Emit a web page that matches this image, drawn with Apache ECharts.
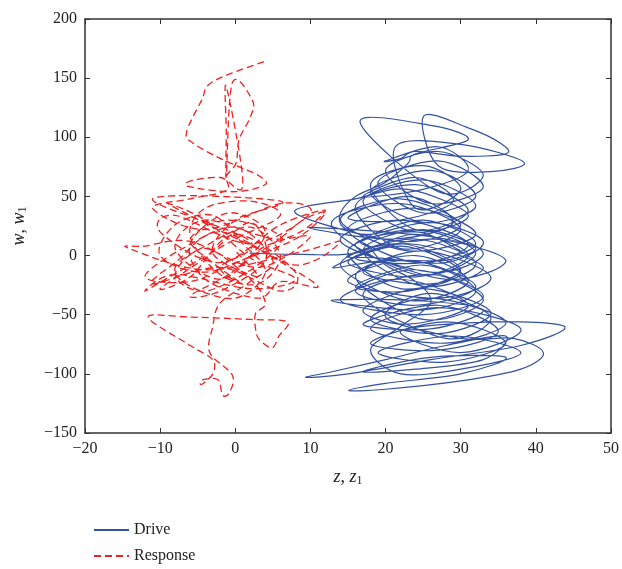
<!DOCTYPE html>
<html>
<head>
<meta charset="utf-8">
<script src="https://cdn.jsdelivr.net/npm/echarts@6/dist/echarts.min.js"></script>
<style>
  html, body { margin: 0; padding: 0; background: #fff; }
  #main { width: 622px; height: 569px; }
</style>
</head>
<body>
<div id="main"></div>
<script>
// axis ticks
var xTicks = [-20, -10, 0, 10, 20, 30, 40, 50];
var yTicks = [-150, -100, -50, 0, 50, 100, 150, 200];

// drive trajectory (z, w), loop by loop
var drive = [
  [1.9,2],[9,1],
  [16,2],[24,18],[31,0],[24,-18],
  [15,-6],[23,10],[33,-10],[25,-26],
  [17,4],[25,22],[33,2],[26,-14],
  [14,12],[22,30],[31,10],[24,-6],
  [15,22],[24,40],[32,18],[23,4],
  [14,30],[22,48],[30,26],[22,12],
  [8,36],[16,48],[23,56],[31,34],[24,20],
  [17,46],[25,64],[32,42],[25,28],
  [18,54],[26,72],[32,50],[25,36],
  [19,62],[27,80],[33,58],[26,44],
  [20,72],[27,88],[33,68],[27,54],
  [16.6,113],[26,110],[31,98],[24,86],[23,78],[20,62],[16,50],[14,36],[14.4,24],[18,18],
  [26,28],[33,12],[28,-6],[19,-2],
  [15,0],[24,14],[32,-6],[26,-24],
  [17,-14],[25,4],[34,-18],[27,-36],
  [15,-22],[23,-4],[32,-26],[24,-42],
  [16,-30],[24,-12],[33,-34],[25,-50],
  [14,-38],[22,-20],[31,-42],[23,-58],
  [17,-46],[25,-28],[34,-48],[27,-66],
  [18,-54],[26,-36],[36,-56],[28,-74],
  [18,-62],[27,-44],[38,-62],[30,-82],
  [22,-64],[34,-56],[43.8,-60],[38,-76],[26,-88],[15,-100],[9.4,-103],[13,-98],[20,-88],
  [28,-76],[36,-68],[33,-88],[24,-96],
  [17,-98],[26,-86],[36,-86],[30,-100],[20,-108],[15.1,-114],[20,-113],[30,-106],[38,-96],[41,-82],[37,-70],[30,-70],
  [20,-52],[26,-32],[34,-52],[28,-70],
  [17,-34],[26,-16],[33,-38],[25,-54],
  [16,-18],[24,0],[31,-22],[23,-38],
  [14,-8],[22,10],[30,-12],[22,-28],
  [15,4],[24,22],[32,2],[24,-16],
  [12.8,26],[22,44],[30,22],[22,6],
  [16,42],[24,60],[31,38],[24,22],
  [18,60],[25,76],[30,56],[24,40],
  [21.3,92],[30,94],[38.4,79],[34,71],[27,76],
  [25.1,118],[31,108],[35.3,95],[36,86],[30,84],[24,88],[22,82],
  [20,80],[27,92],[31,72],[25,56],
  [17,50],[24,66],[29,46],[22,30],
  [15,32],[23,50],[29,28],[21,14],
  [9.8,23.6],[20,20],[28,14],[32,6],[28,-4],[20,-4],
  [13,-10],[22,8],[30,-14],[23,-30],
  [16,-26],[25,-8],[32,-30],[25,-46],
  [12.8,-38],[24,-38],[33,-46],[26,-62],
  [17,-58],[27,-42],[35,-64],[27,-80],
  [18,-74],[28,-56],[36,-74],[28,-90],
  [19,-82],[29,-68],[38,-82],[30,-96],[22,-100],
  [18,-80],[22,-60],[26,-40],[24,-22],[20,-8],[18,6],
  [17,14],[25,30],[32,10],[25,-6],
  [16,-2],[26,14],[36,-4],[28,-20],
  [16,8],[24,20],[30,4]
];

// response trajectory (z1, w1)
var response = [
  [3.8,164],[-3,147],[-4.5,131],[-6.5,104],[-5.6,95],[-2.6,84],[0.5,75],[3,68],[4,60],[0,54],[-6,58],[-6,63],[-2,66],[1,60],
  [-1.2,143],[-1.2,105],[-1.2,67],[-0.4,146],[2.3,131],[2,117],[0.5,98],[0.1,78],[-1.2,67],[-1.2,55],
  [-6,48],[-11,40],[-4,22],[6,44],[10,36],[2,10],[-8,34],[-10,20],[-2,-6],[6,26],[12,38],[6,14],[-4,30],[-8,6],
  [-2,-20],[4,8],[10,16],[3,-10],[-6,12],[-12,8],[-14.3,6.5],[-4,-12],[8,2],[14,12],[8,-8],[-2,20],[-8,-6],
  [-11,-24],[-2,-10],[6,-30],[8,-14],[0,18],[-6,-18],[-10,-28],[-4,-2],[2,28],[4,-4],[-2,-30],[-6,-34],[0,-12],
  [4,20],[-1,36],[-6,10],[-4,-20],[3,-36],[6,-22],[11,-26],[4,2],[-3,24],[-9,44],[-4,30],[2,-2],[8,-20],[2,-28],
  [-8,-16],[-12,-30],[-6,-8],[0,14],[6,34],[2,46],[-4,40],[-6,16],[-2,-16],[3,-24],[6,0],[2,24],[-4,8],[-8,-10],
  [-6,-26],[0,-36],[4,-14],[1,10],[-3,34],[-8,26],[-10,0],[-4,-14],[4,6],[9,30],[12,36],[8,14],[0,-6],[-6,-22],
  [-12,-18],[-7,6],[0,24],[5,-4],[2,-22],[-2,-40],
  [-3,-60],[-3.4,-82],[-0.4,-101],[-0.8,-116],[-1.7,-118],[-2.3,-105],[-4.4,-105],[-4.5,-109],[-3,-100],[-3,-88],
  [-6,-76],[-11.6,-52],[-6,-52],[2,-54],[6.9,-56],[5.8,-68],[4.9,-78],[3.2,-71],[2.7,-62],[2.7,-49],[4,-40],
  [2,-20],[-4,6],[-8,-16],[-4,-30],[3,-8],[6,16],[-1,30],[-6,14],[-3,-6],[1,-24],[-2,-10],[2,12],[-11,48],
  [6,46],[0,30],[-3,2],[3,-18],[0,4]
];

var serif = '"Liberation Serif", "DejaVu Serif", serif';
var minus = function (v) { return String(v).replace('-', '\u2212'); };

// draw a trajectory as one smooth path through its points (Catmull-Rom)
function curve(points, color, width, dash) {
  return {
    type: 'custom',
    coordinateSystem: 'cartesian2d',
    xAxisIndex: 0,
    yAxisIndex: 0,
    data: points,
    encode: { x: 0, y: 1 },
    silent: true,
    clip: true,
    renderItem: function (params, api) {
      if (params.dataIndex !== 0) return null;
      var p = points.map(function (d) { return api.coord(d); });
      var n = p.length;
      var d = 'M' + p[0][0] + ' ' + p[0][1];
      for (var i = 0; i < n - 1; i++) {
        var p0 = p[Math.max(i - 1, 0)], p1 = p[i], p2 = p[i + 1], p3 = p[Math.min(i + 2, n - 1)];
        d += ' C' + (p1[0] + (p2[0] - p0[0]) / 6) + ' ' + (p1[1] + (p2[1] - p0[1]) / 6) +
             ' ' + (p2[0] - (p3[0] - p1[0]) / 6) + ' ' + (p2[1] - (p3[1] - p1[1]) / 6) +
             ' ' + p2[0] + ' ' + p2[1];
      }
      return {
        type: 'path',
        shape: { pathData: d },
        style: { fill: 'none', stroke: color, lineWidth: width, lineDash: dash }
      };
    }
  };
}

var driveColor = '#3452a3';
var respColor = '#f02020';

var chart = echarts.init(document.getElementById('main'));
chart.setOption({
  animation: false,
  backgroundColor: '#fff',
  grid: { left: 85, right: 8, top: 19, bottom: 136 },
  legend: {
    orient: 'vertical',
    left: 88,
    top: 517,
    itemWidth: 35,
    itemHeight: 10,
    itemGap: 10,
    itemStyle: { opacity: 0 },
    textStyle: { fontFamily: serif, fontSize: 16, color: '#222' },
    data: ['Drive', 'Response']
  },
  xAxis: [{
    type: 'value', min: xTicks[0], max: xTicks[xTicks.length - 1], interval: 10,
    name: '{i|z}, {i|z}{s|1}', nameLocation: 'middle', nameGap: 34,
    nameTextStyle: {
      fontFamily: serif, fontSize: 18, color: '#222',
      rich: {
        i: { fontFamily: serif, fontSize: 18, fontStyle: 'italic', color: '#222' },
        s: { fontFamily: serif, fontSize: 12, color: '#222', padding: [8, 0, 0, 0] }
      }
    },
    axisLine: { show: true, onZero: false, lineStyle: { color: '#333', width: 1.5 } },
    axisTick: { inside: true, length: 5, lineStyle: { color: '#333' } },
    axisLabel: { fontFamily: serif, fontSize: 16, color: '#222', formatter: minus, margin: 8 },
    splitLine: { show: false }
  }, {
    type: 'value', position: 'top', min: xTicks[0], max: xTicks[xTicks.length - 1], interval: 10,
    axisLine: { show: true, onZero: false, lineStyle: { color: '#333', width: 1.5 } },
    axisTick: { inside: true, length: 5, lineStyle: { color: '#333' } },
    axisLabel: { show: false },
    splitLine: { show: false }
  }],
  yAxis: [{
    type: 'value', min: yTicks[0], max: yTicks[yTicks.length - 1], interval: 50,
    name: '{i|w}, {i|w}{s|1}', nameLocation: 'middle', nameGap: 56,
    nameTextStyle: {
      fontFamily: serif, fontSize: 18, color: '#222',
      rich: {
        i: { fontFamily: serif, fontSize: 18, fontStyle: 'italic', color: '#222' },
        s: { fontFamily: serif, fontSize: 12, color: '#222', padding: [8, 0, 0, 0] }
      }
    },
    axisLine: { show: true, onZero: false, lineStyle: { color: '#333', width: 1.5 } },
    axisTick: { inside: true, length: 5, lineStyle: { color: '#333' } },
    axisLabel: { fontFamily: serif, fontSize: 16, color: '#222', formatter: minus, margin: 8 },
    splitLine: { show: false }
  }, {
    type: 'value', position: 'right', min: yTicks[0], max: yTicks[yTicks.length - 1], interval: 50,
    axisLine: { show: true, onZero: false, lineStyle: { color: '#333', width: 1.5 } },
    axisTick: { inside: true, length: 5, lineStyle: { color: '#333' } },
    axisLabel: { show: false },
    splitLine: { show: false }
  }],
  series: [
    // legend entries
    { name: 'Drive', type: 'line', data: [], symbol: 'none', color: driveColor,
      lineStyle: { color: driveColor, width: 1.2 } },
    { name: 'Response', type: 'line', data: [], symbol: 'none', color: respColor,
      lineStyle: { color: respColor, width: 1.3, type: [7, 4] } },
    // trajectories
    curve(drive, driveColor, 1.2, null),
    curve(response, respColor, 1.3, [7, 4])
  ]
});
</script>
</body>
</html>
